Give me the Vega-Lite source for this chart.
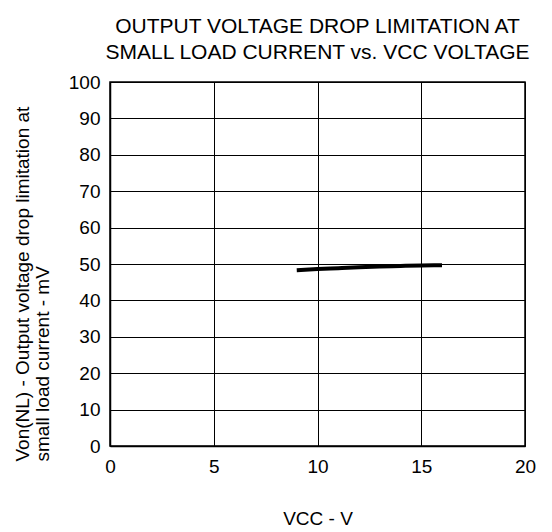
{
  "$schema": "https://vega.github.io/schema/vega-lite/v6.json",
  "width": 415,
  "height": 364,
  "autosize": {"type": "none"},
  "padding": {"left": 110, "top": 82, "right": 27, "bottom": 86},
  "background": "white",
  "title": {
    "text": ["OUTPUT VOLTAGE DROP LIMITATION AT", "SMALL LOAD CURRENT vs. VCC VOLTAGE"],
    "font": "Liberation Sans",
    "fontSize": 21,
    "fontWeight": "normal",
    "color": "black",
    "anchor": "middle",
    "frame": "group",
    "lineHeight": 26,
    "baseline": "alphabetic",
    "offset": 27,
    "dy": 34
  },
  "config": {
    "view": {"stroke": "black", "strokeWidth": 1.5},
    "axis": {
      "labelFont": "Liberation Sans",
      "titleFont": "Liberation Sans",
      "labelFontSize": 19,
      "titleFontSize": 19,
      "titleFontWeight": "normal",
      "labelColor": "black",
      "titleColor": "black",
      "domainColor": "black",
      "domainWidth": 1.5,
      "gridColor": "black",
      "gridWidth": 1,
      "gridOpacity": 1,
      "ticks": false,
      "labelFlush": false
    }
  },
  "data": {
    "values": [
      {"vcc": 9, "v": 48.3},
      {"vcc": 10, "v": 48.6},
      {"vcc": 11, "v": 48.85},
      {"vcc": 12, "v": 49.1},
      {"vcc": 13, "v": 49.3},
      {"vcc": 14, "v": 49.45},
      {"vcc": 15, "v": 49.6},
      {"vcc": 16, "v": 49.65}
    ]
  },
  "mark": {"type": "line", "color": "black", "strokeWidth": 4, "interpolate": "monotone"},
  "encoding": {
    "x": {
      "field": "vcc",
      "type": "quantitative",
      "scale": {"domain": [0, 20], "nice": false},
      "axis": {
        "values": [0, 5, 10, 15, 20],
        "title": "VCC - V",
        "labelPadding": 11,
        "labelBaseline": "top",
        "titleX": 207.5,
        "titleY": 78,
        "titleBaseline": "alphabetic",
        "titleAnchor": "middle"
      }
    },
    "y": {
      "field": "v",
      "type": "quantitative",
      "scale": {"domain": [0, 100], "nice": false},
      "axis": {
        "values": [0, 10, 20, 30, 40, 50, 60, 70, 80, 90, 100],
        "title": ["Von(NL) - Output voltage drop limitation at", "small load current - mV"],
        "labelPadding": 10,
        "titleAngle": -90,
        "titleAlign": "left",
        "titleBaseline": "alphabetic",
        "titleLineHeight": 20,
        "titleX": -82,
        "titleY": 379
      }
    }
  }
}
